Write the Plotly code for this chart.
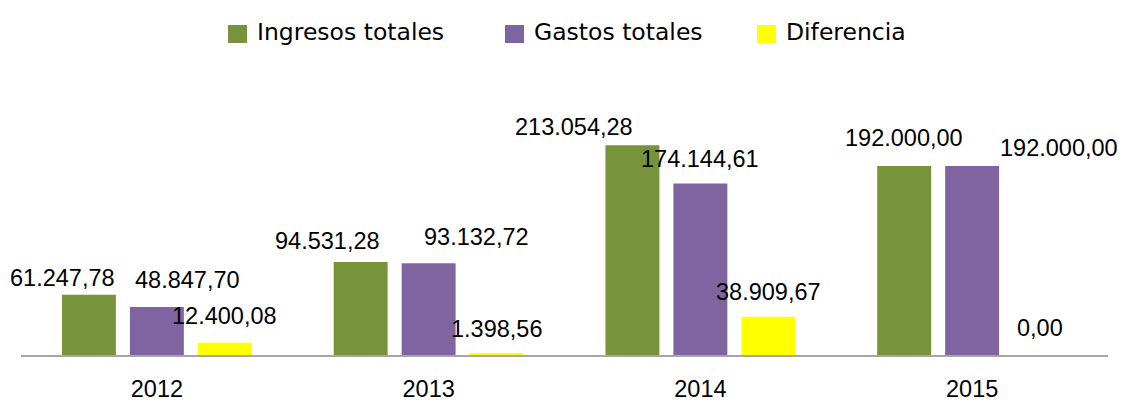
import plotly.graph_objects as go

years = ["2012", "2013", "2014", "2015"]
ingresos = [61247.78, 94531.28, 213054.28, 192000.00]
gastos = [48847.70, 93132.72, 174144.61, 192000.00]
diferencia = [12400.08, 1398.56, 38909.67, 0.00]

series_names = ["Ingresos totales", "Gastos totales", "Diferencia"]
series_colors = ["#77933C", "#8064A2", "#FFFF00"]

# label pixel offsets (dx, dy) relative to bar centre/top, per series
label_offsets = [
    [(-26, 17), (-33, 21), (-58, 18), (0, 28)],
    [(31, 27), (48, 26), (0, 25), (87, 18)],
    [(0, 27), (0, 25), (0, 25), (0, 27)],
]
# legend square left edges in (page) pixels
legend_x = [228, 505, 757]

OFF = 8  # page body margin


def fmt(v):
    s = f"{v:,.2f}"
    return s.replace(",", "X").replace(".", ",").replace("X", ".")


W, H = 1110, 395
ml, mr, mt, mb = 21 - OFF, W - (1108 - OFF), 99 - OFF, H - (355 - OFF)
plot_w = W - ml - mr
plot_h = H - mt - mb
bargap = 0.25
cat_w = plot_w / len(years)
slot = cat_w * (1 - bargap) / 3


def px_x(p):
    return (p - OFF - ml) / plot_w


def px_y(p):
    return (H - mb - (p - OFF)) / plot_h


fig = go.Figure()
annotations = []
shapes = []
for i, (name, vals, col) in enumerate(zip(series_names, [ingresos, gastos, diferencia], series_colors)):
    fig.add_trace(go.Bar(x=years, y=vals, name=name, marker=dict(color=col, line=dict(width=0)),
                         showlegend=False))
    for j, v in enumerate(vals):
        dx, dy = label_offsets[i][j]
        annotations.append(dict(
            x=j, y=v, xref="x", yref="y", text=fmt(v), showarrow=False,
            xshift=(i - 1) * slot + dx, yshift=dy, yanchor="middle", xanchor="center",
            font=dict(family="Liberation Sans, Arial, sans-serif", size=23.5, color="#000000"),
        ))
    # custom legend entry
    lx = legend_x[i]
    shapes.append(dict(type="rect", xref="paper", yref="paper",
                       x0=px_x(lx), x1=px_x(lx + 19), y0=px_y(43), y1=px_y(25),
                       fillcolor=col, line=dict(width=0)))
    annotations.append(dict(
        x=px_x(lx + 27), y=px_y(32), xref="paper", yref="paper", text=name, showarrow=False,
        xanchor="left", yanchor="middle",
        font=dict(family="DejaVu Sans, Verdana, sans-serif", size=23.5, color="#000000"),
    ))

fig.update_layout(
    width=W, height=H,
    margin=dict(l=ml, r=mr, t=mt, b=mb, autoexpand=False),
    paper_bgcolor="white", plot_bgcolor="white",
    barmode="group", bargap=bargap, bargroupgap=0.206,
    showlegend=False,
    annotations=annotations,
    shapes=shapes,
)
fig.update_xaxes(type="category", range=[-0.5, len(years) - 0.5], showline=True, automargin=False,
                 linecolor="#a6a6a6", linewidth=1.5, ticks="", showgrid=False,
                 tickfont=dict(family="Liberation Sans, Arial, sans-serif", size=23.5, color="#000000"),
                 ticklabelstandoff=12)
fig.update_yaxes(range=[0, 260000], visible=False, showgrid=False, zeroline=False, automargin=False)

fig.write_html("out.html")
